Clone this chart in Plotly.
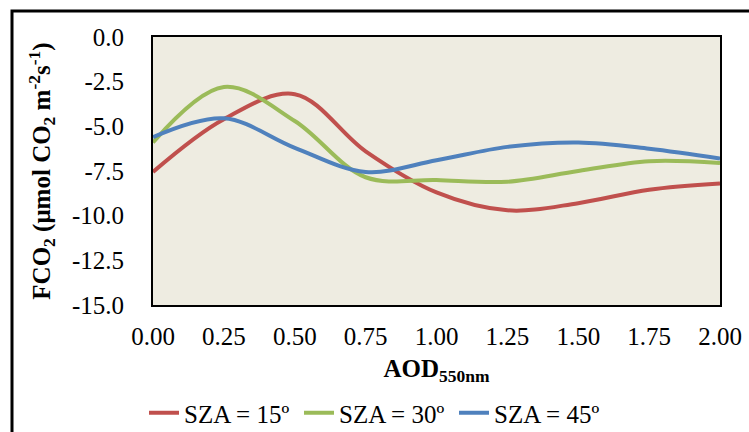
import plotly.graph_objects as go

# AOD at 550 nm and CO2 flux for three solar zenith angles
aod = [0.0, 0.25, 0.5, 0.75, 1.0, 1.25, 1.5, 1.75, 2.0]
fco2_sza15 = [-7.55, -4.6, -3.2, -6.4, -8.7, -9.7, -9.3, -8.55, -8.2]
fco2_sza30 = [-5.9, -2.8, -4.7, -7.85, -8.0, -8.1, -7.5, -6.95, -7.05]
fco2_sza45 = [-5.6, -4.55, -6.2, -7.55, -6.9, -6.15, -5.9, -6.25, -6.8]

series_names = ["SZA = 15º", "SZA = 30º", "SZA = 45º"]
series_colors = ["#C0504D", "#9BBB59", "#4F81BD"]

x_ticks = [0.0, 0.25, 0.5, 0.75, 1.0, 1.25, 1.5, 1.75, 2.0]
x_ticktext = ["0.00", "0.25", "0.50", "0.75", "1.00", "1.25", "1.50", "1.75", "2.00"]
y_ticks = [0.0, -2.5, -5.0, -7.5, -10.0, -12.5, -15.0]
y_ticktext = ["0.0", "-2.5", "-5.0", "-7.5", "-10.0", "-12.5", "-15.0"]

FONT = "Liberation Serif, Times New Roman, Times, serif"

fig = go.Figure()
for name, ys, col in zip(series_names, [fco2_sza15, fco2_sza30, fco2_sza45], series_colors):
    fig.add_trace(go.Scatter(
        x=aod, y=ys, mode="lines", name=name,
        line=dict(color=col, width=4, shape="spline", smoothing=1.0),
    ))

W, H = 749, 432
ml, mr, mt, mb = 153, 29, 37, 127
pw, ph = W - ml - mr, H - mt - mb

def px_to_paper_x(px):
    return (px - ml) / pw

def px_to_paper_y(py):
    return 1 - (py - mt) / ph

fig.update_layout(
    width=W, height=H,
    margin=dict(l=ml, r=mr, t=mt, b=mb, autoexpand=False),
    paper_bgcolor="white",
    plot_bgcolor="#EEECE1",
    font=dict(family=FONT, size=24, color="black"),
    showlegend=True,
    legend=dict(
        orientation="h", x=px_to_paper_x(144), xanchor="left",
        y=px_to_paper_y(413), yanchor="middle",
        font=dict(family=FONT, size=25, color="black"),
        itemwidth=30, tracegroupgap=0,
        entrywidth=110, entrywidthmode="pixels",
    ),
    xaxis=dict(
        range=[0, 2], tickvals=x_ticks, ticktext=x_ticktext,
        showgrid=False, zeroline=False, automargin=False,
        showline=True, linecolor="black", linewidth=2, mirror=True,
        ticks="", ticklabelstandoff=8,
        tickfont=dict(family=FONT, size=25),
        title=dict(text="<b>AOD<sub>550nm</sub></b>", font=dict(family=FONT, size=25), standoff=10),
    ),
    yaxis=dict(
        range=[-15, 0], tickvals=y_ticks, ticktext=y_ticktext,
        showgrid=False, zeroline=False, automargin=False,
        showline=True, linecolor="black", linewidth=2, mirror=True,
        ticks="", ticklabelstandoff=22,
        tickfont=dict(family=FONT, size=25),
        title=dict(text="<b>FCO<sub>2</sub> (μmol CO<sub>2</sub> m<sup>-2</sup>s<sup>-1</sup>)</b>",
                   font=dict(family=FONT, size=25), standoff=14),
    ),
    shapes=[dict(
        type="rect", xref="paper", yref="paper",
        x0=px_to_paper_x(12), x1=px_to_paper_x(770),
        y0=px_to_paper_y(450), y1=px_to_paper_y(11),
        line=dict(color="black", width=3), fillcolor="rgba(0,0,0,0)", layer="below",
    )],
)

fig.write_html("out.html")
